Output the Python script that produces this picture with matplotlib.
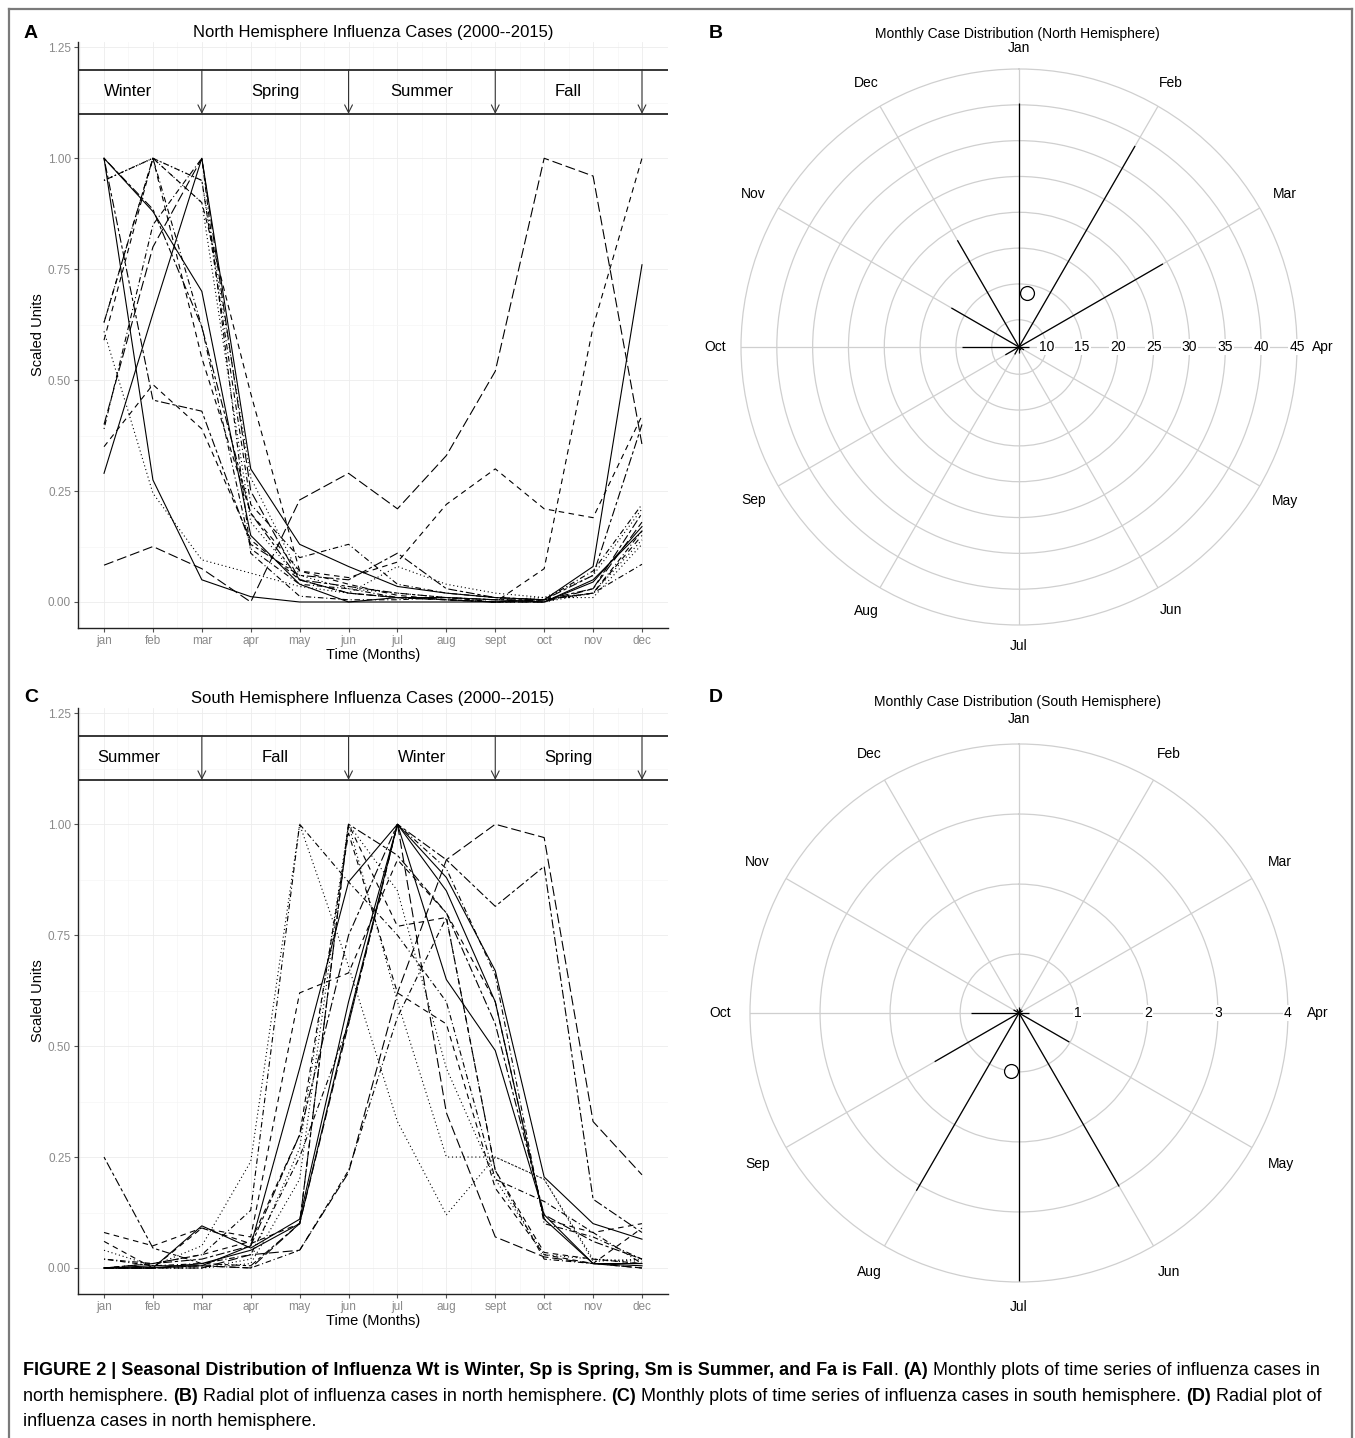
import matplotlib
matplotlib.use('Agg')
import matplotlib.pyplot as plt
import numpy as np
from matplotlib import font_manager as fm
from matplotlib.lines import Line2D


def pick(*names):
    for n in names:
        try:
            fm.findfont(fm.FontProperties(family=n), fallback_to_default=False)
            return n
        except Exception:
            pass
    return 'DejaVu Sans'


SANS = pick('Liberation Sans', 'Arial', 'DejaVu Sans')
NARROW = pick('Liberation Sans Narrow', 'Liberation Sans', 'DejaVu Sans')
CAP = NARROW

# ---------------- data ----------------
months = list(range(1, 13))
month_labels = ['jan', 'feb', 'mar', 'apr', 'may', 'jun', 'jul', 'aug',
                'sept', 'oct', 'nov', 'dec']
polar_month_labels = ['Jan', 'Feb', 'Mar', 'Apr', 'May', 'Jun', 'Jul', 'Aug',
                      'Sep', 'Oct', 'Nov', 'Dec']
years = list(range(2000, 2016))
y_ticks = [0.0, 0.25, 0.5, 0.75, 1.0, 1.25]

season_bounds = [3, 6, 9, 12]
season_label_x = [1.5, 4.5, 7.5, 10.5]
north_seasons = ['Winter', 'Spring', 'Summer', 'Fall']
south_seasons = ['Summer', 'Fall', 'Winter', 'Spring']

# North hemisphere, scaled monthly cases per year
north_2000 = [1.00, 0.275, 0.05, 0.012, 0.0, 0.0, 0.01, 0.01, 0.005, 0.0, 0.045, 0.17]
north_2001 = [0.35, 0.49, 0.39, 0.14, 0.05, 0.02, 0.01, 0.005, 0.0, 0.005, 0.02, 0.15]
north_2002 = [0.61, 0.245, 0.095, 0.065, 0.035, 0.02, 0.08, 0.04, 0.02, 0.01, 0.01, 0.13]
north_2003 = [0.95, 1.00, 0.95, 0.22, 0.10, 0.13, 0.04, 0.02, 0.01, 0.005, 0.07, 0.22]
north_2004 = [0.083, 0.125, 0.075, 0.0, 0.23, 0.29, 0.21, 0.33, 0.52, 1.00, 0.96, 0.355]
north_2005 = [1.00, 0.885, 0.62, 0.20, 0.05, 0.035, 0.02, 0.01, 0.005, 0.005, 0.03, 0.20]
north_2006 = [0.29, 0.65, 1.00, 0.30, 0.13, 0.08, 0.035, 0.02, 0.01, 0.005, 0.08, 0.76]
north_2007 = [0.59, 1.00, 0.90, 0.47, 0.07, 0.04, 0.015, 0.005, 0.0, 0.075, 0.62, 1.00]
north_2008 = [0.95, 1.00, 0.90, 0.18, 0.05, 0.02, 0.01, 0.005, 0.0, 0.0, 0.02, 0.14]
north_2009 = [0.39, 0.85, 1.00, 0.11, 0.013, 0.005, 0.005, 0.01, 0.0, 0.005, 0.02, 0.085]
north_2010 = [0.40, 0.80, 1.00, 0.25, 0.05, 0.02, 0.01, 0.005, 0.0, 0.0, 0.03, 0.18]
north_2011 = [1.00, 0.455, 0.43, 0.13, 0.06, 0.05, 0.11, 0.03, 0.01, 0.005, 0.06, 0.40]
north_2012 = [1.00, 0.88, 0.70, 0.15, 0.04, 0.0, 0.0, 0.0, 0.0, 0.0, 0.05, 0.16]
north_2013 = [0.63, 1.00, 0.55, 0.20, 0.07, 0.055, 0.09, 0.22, 0.30, 0.21, 0.19, 0.42]
north_2014 = [0.95, 1.00, 0.95, 0.28, 0.06, 0.03, 0.02, 0.01, 0.005, 0.01, 0.06, 0.21]
north_2015 = [0.63, 1.00, 0.62, 0.12, 0.04, 0.03, 0.01, 0.005, 0.0, 0.005, 0.02, 0.16]

# South hemisphere, scaled monthly cases per year
south_2000 = [0.0, 0.005, 0.005, 0.05, 0.45, 0.87, 1.00, 0.88, 0.67, 0.205, 0.10, 0.065]
south_2001 = [0.08, 0.05, 0.09, 0.07, 0.62, 0.665, 0.92, 0.80, 0.60, 0.11, 0.08, 0.10]
south_2002 = [0.04, 0.005, 0.05, 0.24, 1.00, 0.68, 0.33, 0.12, 0.25, 0.20, 0.02, 0.01]
south_2003 = [0.02, 0.01, 0.03, 0.13, 1.00, 0.87, 0.75, 0.60, 0.20, 0.15, 0.08, 0.01]
south_2004 = [0.0, 0.0, 0.0, 0.03, 0.04, 0.215, 0.62, 0.92, 1.00, 0.97, 0.33, 0.21]
south_2005 = [0.25, 0.045, 0.01, 0.005, 0.10, 1.00, 0.93, 0.80, 0.55, 0.12, 0.06, 0.02]
south_2006 = [0.0, 0.0, 0.095, 0.045, 0.11, 0.60, 1.00, 0.65, 0.49, 0.12, 0.01, 0.005]
south_2007 = [0.06, 0.0, 0.09, 0.055, 0.10, 1.00, 0.77, 0.79, 0.22, 0.035, 0.02, 0.01]
south_2008 = [0.0, 0.0, 0.0, 0.01, 0.20, 1.00, 0.85, 0.45, 0.20, 0.03, 0.02, 0.015]
south_2009 = [0.02, 0.005, 0.01, 0.03, 0.25, 0.55, 1.00, 0.90, 0.66, 0.10, 0.07, 0.02]
south_2010 = [0.0, 0.0, 0.005, 0.0, 0.10, 0.55, 1.00, 0.35, 0.07, 0.025, 0.01, 0.0]
south_2011 = [0.0, 0.01, 0.02, 0.05, 0.30, 0.75, 1.00, 0.92, 0.815, 0.905, 0.155, 0.08]
south_2012 = [0.0, 0.0, 0.01, 0.04, 0.10, 0.56, 1.00, 0.85, 0.60, 0.11, 0.01, 0.01]
south_2013 = [0.0, 0.01, 0.03, 0.06, 0.30, 0.98, 0.62, 0.55, 0.18, 0.03, 0.01, 0.09]
south_2014 = [0.0, 0.0, 0.0, 0.02, 0.27, 1.00, 0.60, 0.25, 0.25, 0.20, 0.015, 0.02]
south_2015 = [0.0, 0.0, 0.005, 0.0, 0.04, 0.22, 0.565, 0.79, 0.22, 0.02, 0.01, 0.0]

# Radial plots: monthly case distribution
north_monthly = [40.2, 38.6, 29.4, 7.6, 7.0, 6.7, 7.0, 7.4, 8.4, 14.1, 17.1, 23.4]
north_mean_angle_deg = 8.9
north_mean_value = 13.8
north_rings = [10, 15, 20, 25, 30, 35, 40, 45]
north_rlim = (6.2, 45)

south_monthly = [0.25, 0.22, 0.22, 0.3, 0.99, 3.02, 4.0, 3.09, 1.55, 0.85, 0.25, 0.22]
south_mean_angle_deg = 187.5
south_mean_value = 0.99
south_rings = [1, 2, 3, 4]
south_rlim = (0.16, 4.0)

# ---------------- figure ----------------
W, H = 1355, 1438
fig = plt.figure(figsize=(W / 100, H / 100), dpi=100)
fig.patch.set_facecolor('white')
renderer = fig.canvas.get_renderer()


def fx(x):
    return x / W


def fy(y):
    return 1 - y / H


def measure(txt, size, bold=False, family=None):
    t = fig.text(0, 0, txt, fontsize=size, family=family or SANS,
                 fontweight='bold' if bold else 'normal')
    bb = t.get_window_extent(renderer)
    t.remove()
    return bb.width, bb.height


linestyles = ['-', (0, (5, 4)), (0, (1, 2.5)), (0, (1, 2.5, 5, 2.5)),
              (0, (9, 3.5)), (0, (3, 2.5, 8, 2.5))]

north_all = [north_2000, north_2001, north_2002, north_2003, north_2004, north_2005,
             north_2006, north_2007, north_2008, north_2009, north_2010, north_2011,
             north_2012, north_2013, north_2014, north_2015]
south_all = [south_2000, south_2001, south_2002, south_2003, south_2004, south_2005,
             south_2006, south_2007, south_2008, south_2009, south_2010, south_2011,
             south_2012, south_2013, south_2014, south_2015]

TICK_GRAY = '#8a8a8a'


def line_panel(top_px, series, seasons, title):
    bottom_px = top_px + 586
    ax = fig.add_axes([fx(78), fy(bottom_px), fx(668) - fx(78), fy(top_px) - fy(bottom_px)])
    ax.set_xlim(0.468, 12.532)
    ax.set_ylim(-0.0586, 1.262)
    for s in ['top', 'right']:
        ax.spines[s].set_visible(False)
    for s in ['left', 'bottom']:
        ax.spines[s].set_color('#222222')
        ax.spines[s].set_linewidth(1.0)
    ax.set_xticks(months)
    ax.set_xticklabels(month_labels)
    ax.set_yticks(y_ticks)
    ax.set_yticklabels(['%.2f' % v for v in y_ticks])
    ax.set_xticks([m + 0.5 for m in months[:-1]] + [0.5], minor=True)
    ax.set_yticks([0.125, 0.375, 0.625, 0.875, 1.125], minor=True)
    ax.tick_params(which='major', length=3, width=0.8, color='#555555',
                   labelcolor=TICK_GRAY, labelsize=8.5, pad=2)
    ax.tick_params(which='minor', length=0)
    for lab in ax.get_xticklabels() + ax.get_yticklabels():
        lab.set_family(NARROW)
    ax.grid(which='major', color='#ececec', lw=0.6)
    ax.grid(which='minor', color='#f5f5f5', lw=0.5)
    ax.set_axisbelow(True)

    for i, ser in enumerate(series):
        ax.plot(months, ser, color='black', lw=0.8, ls=linestyles[i % 6],
                solid_joinstyle='miter')

    ax.axhline(1.2, color='black', lw=1.1)
    ax.axhline(1.1, color='black', lw=1.1)
    for b in season_bounds:
        ax.annotate('', xy=(b, 1.1), xytext=(b, 1.2),
                    arrowprops=dict(arrowstyle='->', lw=0.8, color='#333333',
                                    mutation_scale=14, shrinkA=0, shrinkB=0))
    for xl, lab in zip(season_label_x, seasons):
        ax.text(xl, 1.15, lab, ha='center', va='center', fontsize=12, family=SANS)

    ax.set_xlabel('Time (Months)', fontsize=10.5, family=SANS)
    ax.xaxis.set_label_coords(0.5, -0.034)
    ax.set_ylabel('Scaled Units', fontsize=10.5, family=SANS, va='center')
    ax.yaxis.set_label_coords(-0.068, 0.5)
    fig.text(fx(373), fy(top_px - 9), title, ha='center', va='center',
             fontsize=12, family=SANS)
    return ax


axA = line_panel(42, north_all, north_seasons,
                 'North Hemisphere Influenza Cases (2000--2015)')
axC = line_panel(708, south_all, south_seasons,
                 'South Hemisphere Influenza Cases (2000--2015)')


def radial_panel(cx, cy, rad, values, rings, rlim, mean_ang, mean_val, title,
                 title_y, label_gap):
    ax = fig.add_axes([fx(cx - rad), fy(cy + rad), 2 * rad / W, 2 * rad / H],
                      projection='polar')
    ax.set_theta_zero_location('N')
    ax.set_theta_direction(-1)
    ax.set_ylim(rlim[0], rlim[1])
    theta = np.arange(12) * 2 * np.pi / 12
    ax.set_xticks(theta)
    ax.set_xticklabels([])
    ax.set_yticks(rings[:-1])
    ax.set_yticklabels([])
    ax.grid(True, color='#cfcfcf', lw=0.9)
    ax.spines['polar'].set_color('#cfcfcf')
    ax.spines['polar'].set_linewidth(0.9)
    ax.tick_params(length=0)

    ax.vlines(theta, rlim[0], values, color='black', lw=0.9)
    ax.plot([np.deg2rad(mean_ang)], [mean_val], 'o', mfc='white', mec='black',
            ms=10, mew=0.9, zorder=5)

    for r in rings:
        ax.text(np.pi / 2, r, str(r), ha='center', va='center', fontsize=10,
                family=SANS, clip_on=False, zorder=6,
                bbox=dict(boxstyle='square,pad=0.08', fc='white', ec='none'))
    units_per_px = (rlim[1] - rlim[0]) / rad
    for th, lab in zip(theta, polar_month_labels):
        tw, fh = measure(lab, 10)
        extra = 0.5 * tw * abs(np.sin(th)) + 0.45 * fh * abs(np.cos(th))
        rlab = rlim[1] + (label_gap + extra) * units_per_px
        ax.text(th, rlab, lab, ha='center', va='center', fontsize=10,
                family=SANS, clip_on=False)
    fig.text(fx(cx - 2), fy(title_y), title, ha='center', va='center',
             fontsize=10, family=SANS)
    return ax


axB = radial_panel(1019, 347, 278, north_monthly, north_rings, north_rlim,
                   north_mean_angle_deg, north_mean_value,
                   'Monthly Case Distribution (North Hemisphere)', 34, 15)
axD = radial_panel(1019, 1013, 269, south_monthly, south_rings, south_rlim,
                   south_mean_angle_deg, south_mean_value,
                   'Monthly Case Distribution (South Hemisphere)', 702, 19)

# panel letters
for lab, x, y in [('A', 31, 34), ('B', 716, 34), ('C', 31, 697), ('D', 716, 697)]:
    fig.text(fx(x), fy(y), lab, ha='center', va='center', fontsize=14,
             fontweight='bold', family=SANS)

# frame
for xs, ys in [([9, 9], [9, 1438]), ([9, 1352], [9, 9]), ([1352, 1352], [9, 1438])]:
    fig.add_artist(Line2D([fx(v) for v in xs], [fy(v) for v in ys],
                          transform=fig.transFigure, color='#7a7a7a', lw=1.6))

# caption
cap_lines = [
    [('FIGURE 2 | Seasonal Distribution of Influenza Wt is Winter, Sp is Spring, Sm is Summer, and Fa is Fall', True),
     ('. ', False), ('(A)', True), (' Monthly plots of time series of influenza cases in', False)],
    [('north hemisphere. ', False), ('(B)', True),
     (' Radial plot of influenza cases in north hemisphere. ', False), ('(C)', True),
     (' Monthly plots of time series of influenza cases in south hemisphere. ', False),
     ('(D)', True), (' Radial plot of', False)],
    [('influenza cases in north hemisphere.', False)],
]
cap_base = [1375, 1401, 1426]
cap_targets = [1314, 1303]


def run_width(runs, size):
    sw = measure('a a', size, family=CAP)[0] - measure('aa', size, family=CAP)[0]
    total = 0
    for txt, bold in runs:
        s = txt.strip()
        lead = len(txt) - len(txt.lstrip())
        trail = len(txt) - len(txt.rstrip())
        total += (lead + trail) * sw + measure(s, size, bold, CAP)[0]
    return total, sw


cap_size = min(12 * tgt / run_width(runs, 12)[0]
               for runs, tgt in zip(cap_lines[:2], cap_targets))

for runs, yb in zip(cap_lines, cap_base):
    _, sw = run_width(runs, cap_size)
    x = 23
    for txt, bold in runs:
        s = txt.strip()
        lead = len(txt) - len(txt.lstrip())
        trail = len(txt) - len(txt.rstrip())
        x += lead * sw
        t = fig.text(fx(x), fy(yb), s, fontsize=cap_size, family=CAP,
                     fontweight='bold' if bold else 'normal', va='baseline', ha='left')
        x += t.get_window_extent(renderer).width + trail * sw

fig.savefig('out.png', dpi=100, facecolor='white')
